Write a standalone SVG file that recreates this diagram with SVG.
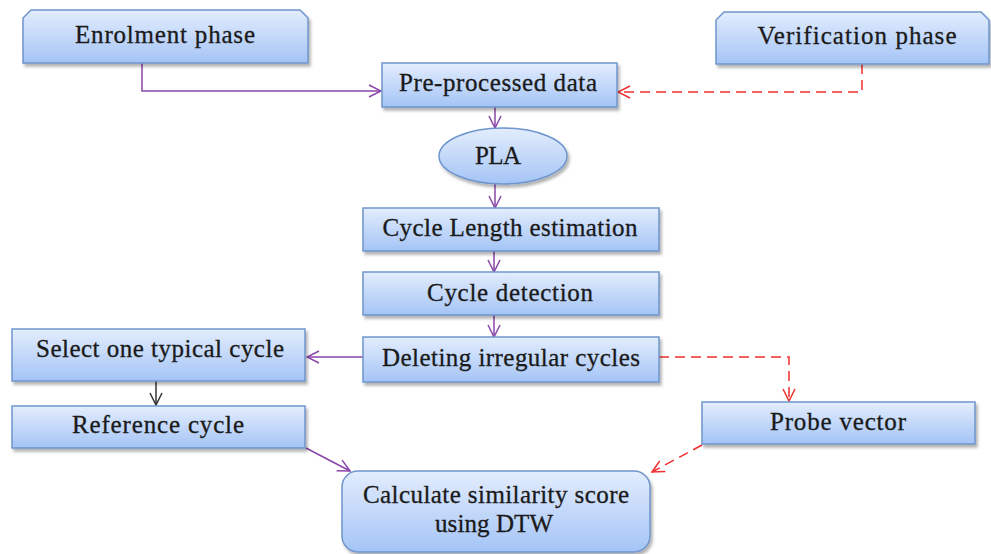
<svg xmlns="http://www.w3.org/2000/svg" width="991" height="554" viewBox="0 0 991 554">
<defs>
<linearGradient id="g" x1="0" y1="0" x2="0" y2="1">
<stop offset="0" stop-color="#e3edfd"/>
<stop offset="1" stop-color="#a4c4f6"/>
</linearGradient>
<filter id="sh" x="-10%" y="-20%" width="120%" height="150%">
<feDropShadow dx="2" dy="3" stdDeviation="1.5" flood-color="#000" flood-opacity="0.3"/>
</filter>
<marker id="ap" viewBox="0 0 14 14" refX="13" refY="7" markerWidth="14" markerHeight="14" markerUnits="userSpaceOnUse" orient="auto">
<path d="M1,1 L13,7 L1,13" fill="none" stroke="#8a45a8" stroke-width="1.5"/>
</marker>
<marker id="ar" viewBox="0 0 14 14" refX="13" refY="7" markerWidth="14" markerHeight="14" markerUnits="userSpaceOnUse" orient="auto">
<path d="M1,1 L13,7 L1,13" fill="none" stroke="#f03030" stroke-width="1.5"/>
</marker>
<marker id="ak" viewBox="0 0 14 14" refX="13" refY="7" markerWidth="14" markerHeight="14" markerUnits="userSpaceOnUse" orient="auto">
<path d="M1,1 L13,7 L1,13" fill="none" stroke="#333" stroke-width="1.5"/>
</marker>
</defs>
<style>
.box{fill:url(#g);stroke:#6f95cc;stroke-width:1.5;filter:url(#sh)}
.t{font-family:"Liberation Serif","Times New Roman",serif;font-size:25px;fill:#1a1a1a;stroke:#1a1a1a;stroke-width:0.3;text-anchor:middle}
.p{fill:none;stroke:#8a45a8;stroke-width:1.5}
.r{fill:none;stroke:#f03030;stroke-width:1.5;stroke-dasharray:10,6}
.k{fill:none;stroke:#333;stroke-width:1.5}
</style>
<rect width="991" height="554" fill="#fff"/>
<g id="connectors">
<path class="p" d="M142,63 V91 H381" marker-end="url(#ap)"/>
<path class="r" d="M862,64 V92 H618" marker-end="url(#ar)"/>
<path class="p" d="M495,107 V128" marker-end="url(#ap)"/>
<path class="p" d="M495,184 V208" marker-end="url(#ap)"/>
<path class="p" d="M494,251 V272" marker-end="url(#ap)"/>
<path class="p" d="M494,315 V337" marker-end="url(#ap)"/>
<path class="p" d="M363,357 H307" marker-end="url(#ap)"/>
<path class="k" d="M156,381 V405" marker-end="url(#ak)"/>
<path class="r" d="M659,357 H789 V401" marker-end="url(#ar)"/>
<path class="p" d="M306,448 L350,471" marker-end="url(#ap)"/>
<path class="r" d="M702,445 L652,472" marker-end="url(#ar)"/>
</g>
<g id="enrolment">
<path class="box" d="M31,10 H300 L308,18 V63 H23 V18 Z"/>
<text class="t" x="165" y="43" textLength="180" lengthAdjust="spacing">Enrolment phase</text>
</g>
<g id="verification">
<path class="box" d="M724,12 H981 L989,20 V64 H716 V20 Z"/>
<text class="t" x="857" y="44" textLength="199" lengthAdjust="spacing">Verification phase</text>
</g>
<g id="preprocessed">
<rect class="box" x="382" y="63" width="235" height="44"/>
<text class="t" x="498" y="91" textLength="198" lengthAdjust="spacing">Pre-processed data</text>
</g>
<g id="pla">
<ellipse class="box" cx="503" cy="156" rx="64" ry="28"/>
<text class="t" x="498" y="164" textLength="46" lengthAdjust="spacing">PLA</text>
</g>
<g id="cyclelength">
<rect class="box" x="363" y="208" width="296" height="43"/>
<text class="t" x="510" y="236" textLength="255" lengthAdjust="spacing">Cycle Length estimation</text>
</g>
<g id="cycledetection">
<rect class="box" x="363" y="272" width="296" height="43"/>
<text class="t" x="510" y="301" textLength="166" lengthAdjust="spacing">Cycle detection</text>
</g>
<g id="deleting">
<rect class="box" x="363" y="337" width="296" height="45"/>
<text class="t" x="511" y="366" textLength="258" lengthAdjust="spacing">Deleting irregular cycles</text>
</g>
<g id="select">
<rect class="box" x="12" y="329" width="293" height="52"/>
<text class="t" x="160" y="357" textLength="248" lengthAdjust="spacing">Select one typical cycle</text>
</g>
<g id="reference">
<rect class="box" x="12" y="406" width="293" height="42"/>
<text class="t" x="158" y="433" textLength="172" lengthAdjust="spacing">Reference cycle</text>
</g>
<g id="probe">
<rect class="box" x="702" y="402" width="273" height="42"/>
<text class="t" x="838" y="430" textLength="136" lengthAdjust="spacing">Probe vector</text>
</g>
<g id="calculate">
<rect class="box" x="342" y="471" width="308" height="81" rx="16"/>
<text class="t" x="496" y="503" textLength="266" lengthAdjust="spacing">Calculate similarity score</text>
<text class="t" x="494" y="532" textLength="118" lengthAdjust="spacing">using DTW</text>
</g>
</svg>
